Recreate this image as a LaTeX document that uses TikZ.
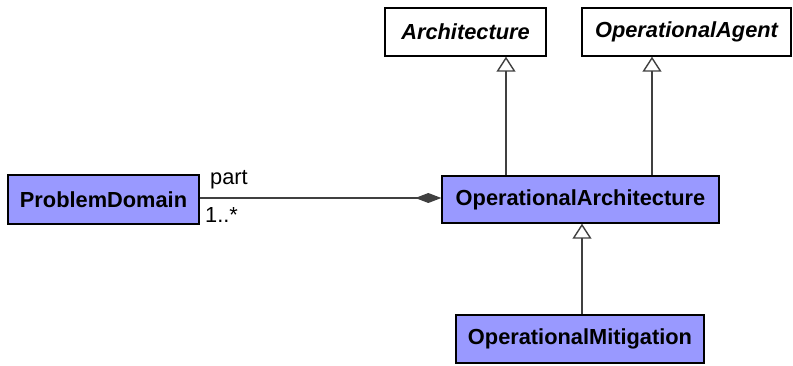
\documentclass[tikz,border=0pt]{standalone}
\usepackage{fontspec}
\setmainfont{Liberation Sans}
\usetikzlibrary{arrows.meta}
\definecolor{classfill}{HTML}{9999FF}
\definecolor{linegray}{HTML}{404040}
\tikzset{
  cls/.style={draw=black, line width=1.4pt, fill=classfill, inner sep=0pt,
    font=\fontsize{21.8}{26}\selectfont\bfseries},
  abscls/.style={draw=black, line width=1.4pt, fill=white, inner sep=0pt,
    font=\fontsize{21.8}{26}\selectfont\bfseries\itshape},
  gen/.style={draw=linegray, line width=1.9pt,
    -{Triangle[open, fill=white, width=19pt, length=15pt, line width=1.4pt]}},
  comp/.style={draw=linegray, line width=1.9pt,
    -{Diamond[width=10pt, length=26pt, fill=linegray]}},
  lbl/.style={font=\fontsize{21.8}{26}\selectfont, inner sep=0pt, anchor=base west}
}
\begin{document}
\begin{tikzpicture}[x=1pt, y=-1pt]
\useasboundingbox (0,0) rectangle (793,366);
\node[abscls, minimum width=161pt, minimum height=48pt] (Arch) at (465.5,32) {Architecture};
\node[abscls, minimum width=209pt, minimum height=48pt] (Agent) at (686.5,32) {OperationalAgent};
\node[cls, minimum width=191pt, minimum height=49pt] (PD) at (103.5,199.5) {ProblemDomain};
\node[cls, minimum width=277pt, minimum height=47pt] (OA) at (580.5,199.5) {OperationalArchitecture};
\node[cls, minimum width=248pt, minimum height=48pt] (OM) at (580,339) {OperationalMitigation};
\coordinate (ax) at (506,0);
\coordinate (gx) at (652,0);
\coordinate (mx) at (582,0);
\coordinate (ay) at (0,198);
\draw[gen] (OA.north -| ax) -- (Arch.south -| ax);
\draw[gen] (OA.north -| gx) -- (Agent.south -| gx);
\draw[gen] (OM.north -| mx) -- (OA.south -| mx);
\draw[comp] (PD.east |- ay) -- (OA.west |- ay);
\node[lbl] (part) at (210,185) {part};
\node[lbl] (mult) at (205,223) {1..*};
\end{tikzpicture}
\end{document}
